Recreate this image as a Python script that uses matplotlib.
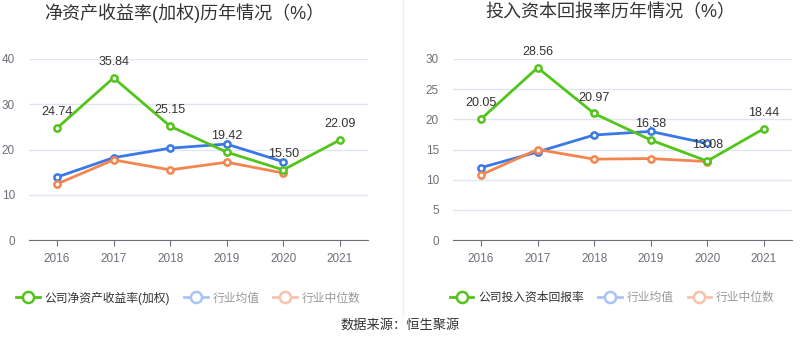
import matplotlib
matplotlib.use("Agg")
import matplotlib.pyplot as plt
from matplotlib.lines import Line2D

plt.rcParams['font.family'] = ['Liberation Sans', 'Noto Sans CJK SC', 'DejaVu Sans']

years = [2016, 2017, 2018, 2019, 2020, 2021]

# 净资产收益率(加权)
roe_company = [24.74, 35.84, 25.15, 19.42, 15.50, 22.09]
roe_avg = [13.9, 18.2, 20.3, 21.2, 17.3]
roe_median = [12.4, 17.7, 15.5, 17.2, 14.8]

# 投入资本回报率
roic_company = [20.05, 28.56, 20.97, 16.58, 13.08, 18.44]
roic_avg = [12.0, 14.6, 17.4, 18.0, 16.0]
roic_median = [10.8, 15.0, 13.4, 13.5, 13.0]

GREEN = '#52c41a'
BLUE = '#3a78e6'
ORANGE = '#f5854f'
GRID = '#e0e6f1'
AXIS = '#6e7079'


def draw(ax, company, avg, median, yticks, name):
    n = len(avg)
    kw = dict(lw=2, marker='o', ms=4.5, mfc='white', mew=1.8, clip_on=False)
    ax.plot(years[:n], avg, color=BLUE, zorder=3, **kw)
    ax.plot(years[:n], median, color=ORANGE, zorder=3, **kw)
    ax.plot(years, company, color=GREEN, zorder=4, **kw)
    for x, v in zip(years, company):
        ax.annotate(f'{v:.2f}', (x, v), xytext=(0, 7), textcoords='offset points',
                    ha='center', va='bottom', fontsize=9, color='#333333', zorder=5)
    ax.set_xlim(2015.5, 2021.5)
    ax.set_ylim(yticks[0], yticks[-1])
    ax.set_yticks(yticks)
    ax.set_xticks(years)
    ax.grid(axis='y', color=GRID, lw=1)
    ax.set_axisbelow(True)
    for s in ['left', 'right', 'top']:
        ax.spines[s].set_visible(False)
    ax.spines['bottom'].set_color(AXIS)
    ax.tick_params(axis='y', length=0, colors=AXIS, labelsize=8.5, pad=10)
    ax.tick_params(axis='x', length=4, colors=AXIS, labelsize=8.5, pad=5)

    handles = [
        Line2D([], [], color=GREEN, lw=2, marker='o', ms=8, mfc='white', mew=1.8),
        Line2D([], [], color='#a8c4f5', lw=2, marker='o', ms=8, mfc='white', mew=1.8),
        Line2D([], [], color='#f9c3ab', lw=2, marker='o', ms=8, mfc='white', mew=1.8),
    ]
    leg = ax.legend(handles, [name, '行业均值', '行业中位数'], ncol=3,
                    loc='center', bbox_to_anchor=(0.47, -0.32), frameon=False,
                    fontsize=8.5, handlelength=2.0, handletextpad=0.4, columnspacing=1.2)
    for t, c in zip(leg.get_texts(), ['#333333', '#999999', '#999999']):
        t.set_color(c)


fig = plt.figure(figsize=(8, 3.58), dpi=100)
ax1 = fig.add_axes([0.036, 0.3296, 0.424, 0.5056])
ax2 = fig.add_axes([0.566, 0.3296, 0.424, 0.5056])

draw(ax1, roe_company, roe_avg, roe_median, [0, 10, 20, 30, 40],
     '公司净资产收益率(加权)')
draw(ax2, roic_company, roic_avg, roic_median, [0, 5, 10, 15, 20, 25, 30],
     '公司投入资本回报率')

fig.text(0.23, 0.964, '净资产收益率(加权)历年情况（%）', ha='center', va='center',
         fontsize=13, color='#333333')
fig.text(0.7625, 0.964, '投入资本回报率历年情况（%）', ha='center', va='center',
         fontsize=13, color='#333333')

fig.add_artist(Line2D([0.504, 0.504], [0.12, 1.0], transform=fig.transFigure,
                      color='#eeeeee', lw=1))
fig.text(0.5, 0.092, '数据来源：恒生聚源', ha='center', va='center',
         fontsize=9.5, color='#333333')

fig.savefig('out.png', dpi=100)
